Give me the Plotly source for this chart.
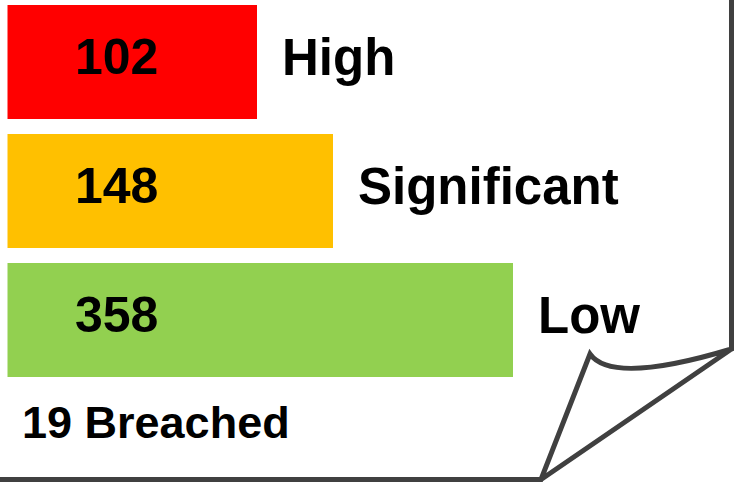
import math
import plotly.graph_objects as go

# ---- data ----
categories = ["High", "Significant", "Low"]
counts = [102, 148, 358]
bar_colors = ["#FF0000", "#FFC000", "#92D050"]
breached_count = 19
breached_label = "Breached"

W, H = 734, 482
FONT = "Liberation Sans, Arial, sans-serif"

def px(x):
    return x / W

def py(y):
    return 1 - y / H

fig = go.Figure()
fig.add_trace(go.Bar(
    x=counts, y=categories, orientation="h",
    marker=dict(color=bar_colors, line=dict(width=0)),
    width=0.884, hoverinfo="skip", showlegend=False,
))

annotations = []
for cat, val in zip(categories, counts):
    annotations.append(dict(
        x=px(116), xref="paper", y=cat, yref="y",
        text=f"<b>{val}</b>", showarrow=False,
        xanchor="center", yanchor="middle", yshift=5,
        font=dict(family=FONT, size=50, color="#000000"),
    ))
    annotations.append(dict(
        x=math.log10(val), xref="x", y=cat, yref="y",
        text=f"<b>{cat}</b>", showarrow=False,
        xanchor="left", yanchor="middle", xshift=23, yshift=5,
        font=dict(family=FONT, size=51, color="#000000"),
    ))
annotations.append(dict(
    x=px(20), xref="paper", y=py(422), yref="paper",
    text=f"<b>{breached_count} {breached_label}</b>", showarrow=False,
    xanchor="left", yanchor="middle",
    font=dict(family=FONT, size=45, color="#000000"),
))

# page-curl outline (decoration)
pts = lambda x, y: f"{px(x):.5f},{py(y):.5f}"
path = (
    f"M {pts(-10, 479.5)} L {pts(541, 479.5)} L {pts(590, 354)} "
    f"Q {pts(612, 385)} {pts(731.5, 349)} L {pts(731.5, -10)} "
    f"M {pts(541, 479.5)} L {pts(731.5, 349)}"
)
fig.add_shape(type="path", path=path, xref="paper", yref="paper",
              line=dict(color="#404040", width=5), layer="above")

x0 = math.log10(30)
k = 469.5
y_top = -62 / 129
y_bot = y_top + H / 129
fig.update_layout(
    width=W, height=H,
    margin=dict(l=0, r=0, t=0, b=0, pad=0),
    paper_bgcolor="white", plot_bgcolor="white",
    xaxis=dict(type="log", range=[x0, x0 + (W - 7.5) / k],
               domain=[7.5 / W, 1], visible=False, showgrid=False,
               autorange=False),
    yaxis=dict(type="category", categoryorder="array", categoryarray=categories,
               range=[y_bot, y_top], autorange=False,
               visible=False, showgrid=False),
    annotations=annotations,
    bargap=0,
)

fig.write_html(
    "out.html",
    config={"displayModeBar": False, "staticPlot": True},
    post_script="document.body.style.margin='0';document.body.style.padding='0';",
)
